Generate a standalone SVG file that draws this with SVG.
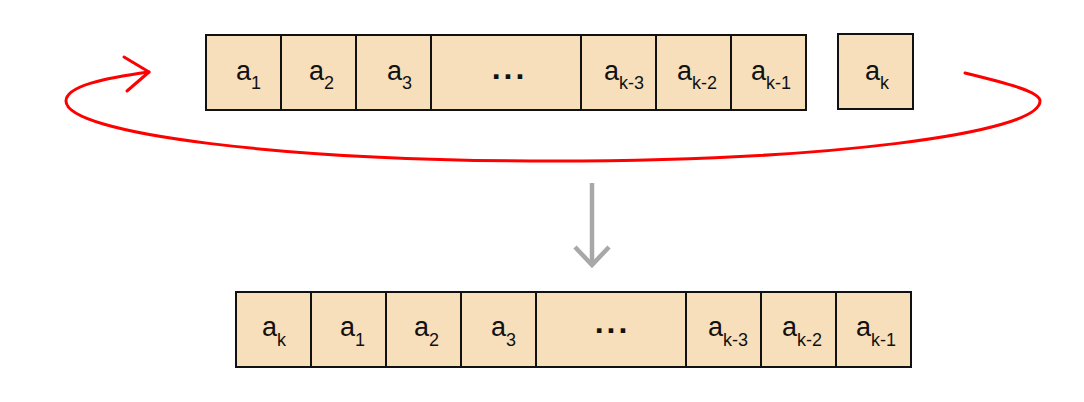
<svg xmlns="http://www.w3.org/2000/svg" width="1084" height="402" viewBox="0 0 1084 402">
<style>
.c{fill:#F8DFBB;stroke:#111;stroke-width:2}
.t{font-family:"Liberation Sans",Arial,sans-serif;font-size:27px;fill:#111}
.s{font-size:18px}
.d{font-family:"Liberation Sans",Arial,sans-serif;font-size:32px;font-weight:bold;fill:#111;text-anchor:middle;letter-spacing:3px}
.red{fill:none;stroke:#F00;stroke-width:3;stroke-linecap:round;stroke-linejoin:round}
.gray{fill:none;stroke:#A8A8A8;stroke-width:4.5}
</style>
<rect width="1084" height="402" fill="#fff"/>
<g id="top-row">
<g id="t1"><rect class="c" x="206" y="35" width="75" height="75"/><text class="t" x="236" y="79.5">a<tspan class="s" dy="9">1</tspan></text></g>
<g id="t2"><rect class="c" x="281" y="35" width="75" height="75"/><text class="t" x="309" y="79.5">a<tspan class="s" dy="9">2</tspan></text></g>
<g id="t3"><rect class="c" x="356" y="35" width="75" height="75"/><text class="t" x="387" y="79.5">a<tspan class="s" dy="9">3</tspan></text></g>
<g id="t4"><rect class="c" x="431" y="35" width="150" height="75"/><text class="d" x="509.5" y="78.5">...</text></g>
<g id="t5"><rect class="c" x="581" y="35" width="75" height="75"/><text class="t" x="604" y="79.5">a<tspan class="s" dy="9">k-3</tspan></text></g>
<g id="t6"><rect class="c" x="656" y="35" width="75" height="75"/><text class="t" x="677" y="79.5">a<tspan class="s" dy="9">k-2</tspan></text></g>
<g id="t7"><rect class="c" x="731" y="35" width="75" height="75"/><text class="t" x="751" y="79.5">a<tspan class="s" dy="9">k-1</tspan></text></g>
</g>
<g id="t-ak"><rect class="c" x="838" y="34" width="75" height="75"/><text class="t" x="865" y="79.5">a<tspan class="s" dy="9">k</tspan></text></g>
<g id="bottom-row">
<g id="b1"><rect class="c" x="236" y="292" width="75" height="75"/><text class="t" x="262" y="336">a<tspan class="s" dy="10">k</tspan></text></g>
<g id="b2"><rect class="c" x="311" y="292" width="75" height="75"/><text class="t" x="340" y="336">a<tspan class="s" dy="10">1</tspan></text></g>
<g id="b3"><rect class="c" x="386" y="292" width="75" height="75"/><text class="t" x="414" y="336">a<tspan class="s" dy="10">2</tspan></text></g>
<g id="b4"><rect class="c" x="461" y="292" width="75" height="75"/><text class="t" x="491" y="336">a<tspan class="s" dy="10">3</tspan></text></g>
<g id="b5"><rect class="c" x="536" y="292" width="150" height="75"/><text class="d" x="612.5" y="333">...</text></g>
<g id="b6"><rect class="c" x="686" y="292" width="75" height="75"/><text class="t" x="708" y="336">a<tspan class="s" dy="10">k-3</tspan></text></g>
<g id="b7"><rect class="c" x="761" y="292" width="75" height="75"/><text class="t" x="782" y="336">a<tspan class="s" dy="10">k-2</tspan></text></g>
<g id="b8"><rect class="c" x="836" y="292" width="75" height="75"/><text class="t" x="856" y="336">a<tspan class="s" dy="10">k-1</tspan></text></g>
</g>
<g id="connectors">
<path class="red" d="M965 73 C1010 84 1040 92 1040 101 C1040 134 822 161 553 161 C284 161 66 134 66 101 C66 86 105 78 149 72"/>
<polyline class="red" points="124,57 149,72 127,91"/>
<line class="gray" x1="592" y1="183" x2="592" y2="265"/>
<polyline class="gray" points="575,247 592,265 609,247"/>
</g>
</svg>
